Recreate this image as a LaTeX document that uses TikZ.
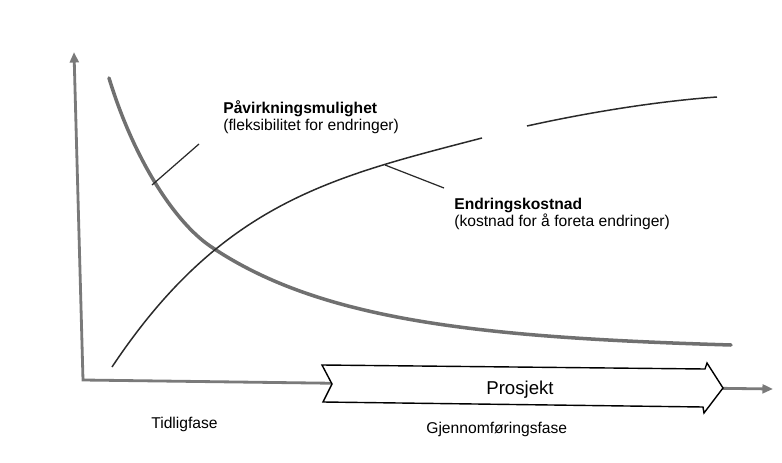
\documentclass[tikz,border=0pt]{standalone}
\usepackage{fontspec}
\setmainfont{Liberation Sans}
\usetikzlibrary{arrows.meta}
\definecolor{axisgray}{HTML}{7A7A7A}
\definecolor{flexgray}{HTML}{707070}
\definecolor{costdark}{HTML}{2A2A2A}
\begin{document}
\begin{tikzpicture}[x=0.02cm,y=-0.02cm,
  axisline/.style={draw=axisgray, line width=1.6pt, line join=miter},
  flexcurve/.style={draw=flexgray, line width=2pt, line cap=round},
  costcurve/.style={draw=costdark, line width=0.85pt},
  leader/.style={draw=costdark, line width=0.7pt},
  projshape/.style={draw=black, line width=0.8pt, fill=white, line join=miter},
  lbl/.style={inner sep=0pt, anchor=base west, font=\fontsize{8.9}{10}\selectfont},
  projlbl/.style={inner sep=0pt, anchor=base, font=\fontsize{10.6}{12}\selectfont}]
\useasboundingbox (0,0) rectangle (782,463);

% axes
\coordinate (origin) at (83,380);
\coordinate (ytop) at (74,52);
\coordinate (xend) at (773,389);
\draw[axisline, {Triangle[length=6pt,width=5pt]}-{Triangle[length=6pt,width=5pt]}]
  (ytop) -- (origin) -- (xend);

% project arrow across the time axis
\draw[projshape] (322,365) -- (705,369) -- (707,363) -- (723,388) -- (704,413)
  -- (703,407) -- (323,402) -- (332,384) -- cycle;
\node[projlbl] (prosjekt) at (520,394) {Prosjekt};

% flexibility: falls steeply, then levels out
\coordinate (flexstart) at (109,78);
\coordinate (cross) at (210,246);
\coordinate (flexstop) at (731,345);
\draw[flexcurve] (flexstart) .. controls (134,160) and (175,222) .. (cross)
  .. controls (320,321) and (481,337.5) .. (flexstop);

% cost of change: rises, then levels out
\coordinate (coststart) at (112,367);
\coordinate (costbreak) at (482,138);
\coordinate (costresume) at (527,126);
\coordinate (coststop) at (717,97);
\draw[costcurve] (coststart) .. controls (222,202) and (332,177) .. (costbreak);
\draw[costcurve] (costresume) .. controls (590,112) and (660,101) .. (coststop);

% leaders to the curve labels
\coordinate (flexpt) at (152,185);
\coordinate (flexend) at (199,144);
\draw[leader] (flexpt) -- (flexend);
\coordinate (costpt) at (385,165);
\coordinate (costend) at (444,188);
\draw[leader] (costpt) -- (costend);

% labels
\node[lbl] (flextitle) at (223,113) {\bfseries Påvirkningsmulighet};
\node[lbl] (flexsub) at (223,130) {(fleksibilitet for endringer)};
\node[lbl] (costtitle) at (454,209) {\bfseries Endringskostnad};
\node[lbl] (costsub) at (454,226) {(kostnad for å foreta endringer)};
\node[lbl] (early) at (151,428) {Tidligfase};
\node[lbl] (exec) at (426,433) {Gjennomføringsfase};
\end{tikzpicture}
\end{document}
